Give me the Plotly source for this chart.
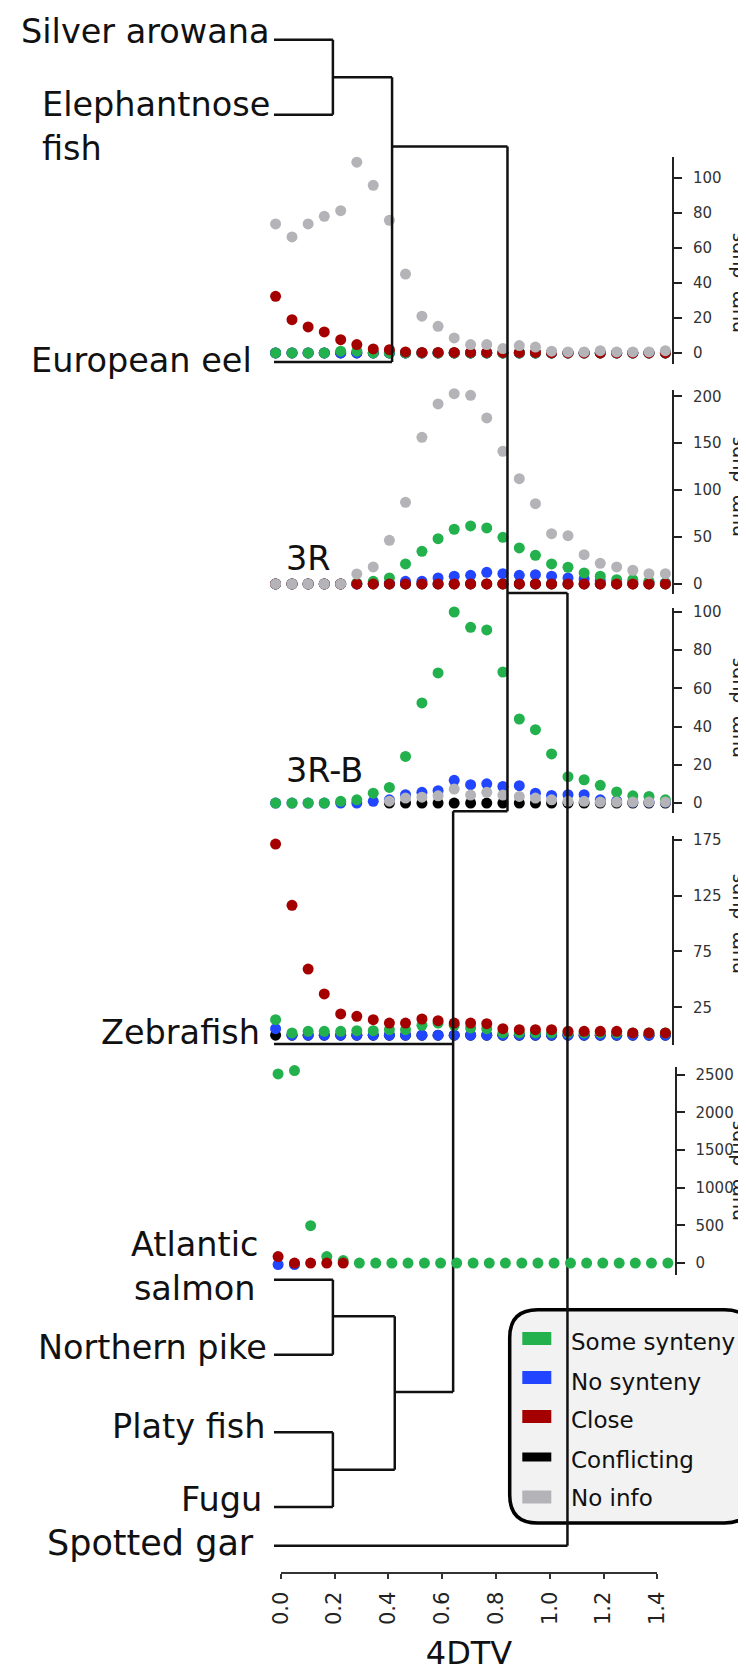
import plotly.graph_objects as go

W, H = 746, 1671
FONT = "DejaVu Sans"

# ---------------- data ----------------
x_bins = [-0.019, 0.042, 0.102, 0.162, 0.223, 0.283, 0.344, 0.404, 0.464, 0.525,
          0.585, 0.645, 0.706, 0.766, 0.826, 0.887, 0.947, 1.007, 1.068, 1.128,
          1.188, 1.249, 1.309, 1.369, 1.430]

series_names = ["Conflicting", "No synteny", "Some synteny", "Close", "No info"]   # drawing order
series_colors = {"Some synteny": "#22b14c", "No synteny": "#2246ff", "Close": "#a50000",
                 "Conflicting": "#000000", "No info": "#b4b4b8"}
legend_order = ["Some synteny", "No synteny", "Close", "Conflicting", "No info"]

# Panel 1: European eel
eel_green = [0, 0, 0, 0, 1, 1, 0, 0, 0, 0, 0, 0, 0, 0, 0, 0, 0, 0, 0, 0, 0, 0, 0, 0, 0]
eel_blue = [0, 0, 0, 0, 0, 0, 0, 0, 0, 0, 0, 0, 0, 0, 0, 0, 0, 0, 0, 0, 0, 0, 0, 0, 0]
eel_red = [32.4, 19, 14.9, 12, 7.6, 4.8, 2.3, 1.9, 0.6, 0.3, 0.3, 0.3, 0.3, 0.3, 0.3, 0.3, 0.3, 0, 0, 0, 0, 0, 0, 0, 0]
eel_black = [0, 0, 0, 0, 0, 0, 0, 0, 0, 0, 0, 0, 0, 0, 0, 0, 0, 0, 0, 0, 0, 0, 0, 0, 0]
eel_gray = [73.7, 66.3, 73.7, 78.1, 81.3, 109, 95.8, 75.8, 45.1, 21, 15.2, 8.6, 4.8, 4.8, 2.5, 4.2, 3.4, 1,
            0.6, 0.6, 1.3, 0.6, 0.6, 0.6, 1.3]

# Panel 2: 3R
r3_green = [0, 0, 0, 0, 0, 1, 2.8, 6.4, 21.3, 34.8, 48.3, 58.3, 61.8, 59.7, 49.7, 38.4, 30.5, 21.3,
            17.8, 11.7, 8.2, 4.6, 4.6, 2.8, 1]
r3_blue = [0, 0, 0, 0, 0, 0, 0.5, 0.5, 2.8, 2.8, 6.4, 8.2, 9.2, 12.4, 11, 9.2, 9.9, 8.2, 6.4, 5.3,
           3.5, 2.1, 2.1, 1.8, 1]
r3_red = [0, 0, 0, 0, 0, 0, 0, 0, 0, 0, 0, 0, 0, 0, 0, 0, 0, 0, 0, 0, 0, 0, 0, 0, 0]
r3_black = [0, 0, 0, 0, 0, 0, 0, 0, 0, 0, 0, 0, 0, 0, 0, 0, 0, 0, 0, 0, 0, 0, 0, 0, 0]
r3_gray = [0, 0, 0, 0, 0, 10.7, 18.1, 46.5, 87, 156.3, 191.8, 202.8, 201, 176.9, 141.4, 112.2, 85.6,
           53.6, 51.5, 31.2, 22, 18.1, 14.6, 11, 11]

# Panel 3: 3R-B
r3b_green = [0, 0, 0, 0, 0.9, 1.7, 5.2, 8.2, 24.4, 52.4, 68.1, 100, 92, 90.6, 68.6, 44, 38.4, 25.7,
             13.8, 12.2, 9.3, 5.8, 3.8, 3.5, 1.7]
r3b_blue = [0, 0, 0, 0, 0, 0, 0.9, 1.7, 4.4, 5.6, 6.5, 11.9, 9.6, 10.1, 8.7, 9.1, 5.2, 4, 4.4, 4.4,
            1.7, 1.2, 0.5, 0.5, 0.5]
r3b_red = [None] * 25
r3b_black = [None, None, None, None, None, None, None, 0, 0, 0, 0, 0, 0, 0, 0, 0, 0, 0, 0, 0, 0, 0, 0, 0, 0]
r3b_gray = [None, None, None, None, None, None, None, 1, 2.6, 3.1, 3.8, 7.3, 4.2, 5.6, 4.2, 3.5, 2.6, 1.7,
            0.9, 0.9, 0.5, 0.5, 0.5, 0.5, 0.5]

# Panel 4: Zebrafish
zf_green = [13.9, 2, 3.5, 3.5, 3.5, 4, 4, 4.9, 4.9, 8.8, 10.9, 8.8, 6.5, 5.8, 2, 2, 2, 2, 2, 2, 2, 2, 2, 2, 2]
zf_blue = [5.8, 0, 0, 0, 0, 0, 0, 0, 0, 0, 0, 0, 0, 0, 0, 0, 0, 0, 0, 0, 0, 0, 0, 0, 0]
zf_red = [171.1, 116.3, 59.2, 36.9, 19, 16.9, 13.9, 10.9, 10.9, 14.5, 13, 10.9, 10.9, 10.3, 5.8, 4.9,
          4.9, 4.9, 3.5, 3.5, 3.5, 3.5, 2, 2, 2]
zf_black = [0, 0, 0, 0, 0, 0, 0, 0, 0, 0, 0, 0, 0, 0, 0, 0, 0, 0, 0, 0, 0, 0, 0, 0, 0]
zf_gray = [None] * 25

# Panel 5: Atlantic salmon
sal_green = [2510, 2555, 495, 85, 33, 0, 0, 0, 0, 0, 0, 0, 0, 0, 0, 0, 0, 0, 0, 0, 0, 0, 0, 0, 0]
sal_blue = [-20, -20, None, None, None, None, None, None, None, None, None, None, None, None, None,
            None, None, None, None, None, None, None, None, None, None]
sal_red = [85, 0, 0, 0, 0, None, None, None, None, None, None, None, None, None, None, None, None,
           None, None, None, None, None, None, None, None]
sal_black = [None] * 25
sal_gray = [None] * 25

panel_series = [
    {"Some synteny": eel_green, "No synteny": eel_blue, "Close": eel_red, "Conflicting": eel_black, "No info": eel_gray},
    {"Some synteny": r3_green, "No synteny": r3_blue, "Close": r3_red, "Conflicting": r3_black, "No info": r3_gray},
    {"Some synteny": r3b_green, "No synteny": r3b_blue, "Close": r3b_red, "Conflicting": r3b_black, "No info": r3b_gray},
    {"Some synteny": zf_green, "No synteny": zf_blue, "Close": zf_red, "Conflicting": zf_black, "No info": zf_gray},
    {"Some synteny": sal_green, "No synteny": sal_blue, "Close": sal_red, "Conflicting": sal_black, "No info": sal_gray},
]
panel_ticks = [
    [0, 20, 40, 60, 80, 100],
    [0, 50, 100, 150, 200],
    [0, 20, 40, 60, 80, 100],
    [25, 75, 125, 175],
    [0, 500, 1000, 1500, 2000, 2500],
]
panel_ranges = [[-6.3, 111.8], [-10.7, 207], [-5.2, 102.1], [-8.5, 178.3], [-155, 2598]]

x_ticks = [0, 0.2, 0.4, 0.6, 0.8, 1.0, 1.2, 1.4]
x_ticktext = ["0.0", "0.2", "0.4", "0.6", "0.8", "1.0", "1.2", "1.4"]

# Dendrogram (node heights in 4DTV units)
leaf_names = ["Silver arowana", "Elephantnose fish", "European eel", "Zebrafish", "Atlantic salmon",
              "Northern pike", "Platy fish", "Fugu", "Spotted gar"]
leaf_start = -0.025
dendro_nodes = [
    # name, child a, child b, height
    ("A", "Silver arowana", "Elephantnose fish", 0.194),
    ("B", "A", "European eel", 0.414),
    ("SP", "Atlantic salmon", "Northern pike", 0.194),
    ("PF", "Platy fish", "Fugu", 0.194),
    ("EU", "SP", "PF", 0.424),
    ("TE", "Zebrafish", "EU", 0.641),
    ("C", "B", "TE", 0.843),
    ("ROOT", "C", "Spotted gar", 1.066),
]

# ---------------- layout geometry (pixels of the 746x1671 page) ----------------
px_x0, px_x14 = 272.7, 649.3          # pixel positions of 4DTV = 0 and 1.4
upx = 1.4 / (px_x14 - px_x0)
x_range = [-px_x0 * upx, (W - px_x0) * upx]
x_range5 = [x_range[0] - 2.5 * upx, x_range[1] - 2.5 * upx]

panel_px = [(149.3, 356), (381.7, 586), (600, 805), (828, 1036.7), (1059.3, 1266.7)]
panel_axis_px = [665, 665, 665, 665, 667.5]
panel_title_px = [272, 476, 697, 913, 1160]

leaf_y_px = {"Silver arowana": 31.7, "Elephantnose fish": 106.7, "European eel": 354, "Zebrafish": 1036,
             "Atlantic salmon": 1271.7, "Northern pike": 1346.7, "Platy fish": 1424.3, "Fugu": 1499,
             "Spotted gar": 1537.7}
node_y_px = {"A": 69.2, "B": 138.5, "SP": 1308.3, "PF": 1461.7, "EU": 1384, "TE": 803.3, "C": 585, "ROOT": None}


def pxx(p):
    return p / W


def pxy(p):
    return 1 - p / H


fig = go.Figure()

# ---------------- scatter panels ----------------
for i, ser in enumerate(panel_series):
    yref = "y" if i == 0 else f"y{i + 1}"
    xref = "x3" if i == 4 else "x"
    for name in series_names:
        fig.add_trace(go.Scatter(
            x=x_bins, y=ser[name], mode="markers", xaxis=xref, yaxis=yref,
            marker=dict(size=11, color=series_colors[name], line=dict(width=0)),
            cliponaxis=False, showlegend=False, name=name, hoverinfo="x+y+name"))

# ---------------- dendrogram ----------------
pos = {n: (leaf_start, leaf_y_px[n]) for n in leaf_names}
dx, dy = [], []
for name, a, b, h in dendro_nodes:
    (xa, ya), (xb, yb) = pos[a], pos[b]
    dx += [xa, h, None, xb, h, None]
    dy += [ya, ya, None, yb, yb, None]
    yo = node_y_px[name]
    ys = [ya, yb] + ([yo] if yo is not None else [])
    dx += [h, h, None]
    dy += [min(ys), max(ys), None]
    pos[name] = (h, yo)
fig.add_trace(go.Scatter(x=dx, y=dy, mode="lines", xaxis="x", yaxis="y6",
                         line=dict(color="#111111", width=2.5), showlegend=False, hoverinfo="skip"))

# invisible anchor trace so the 4DTV axis subplot is built
fig.add_trace(go.Scatter(x=[0.7], y=[0.5], xaxis="x2", yaxis="y7", mode="markers",
                         marker=dict(opacity=0), showlegend=False, hoverinfo="skip"))

# ---------------- axes ----------------
lay = dict(
    width=W, height=H, margin=dict(l=0, r=0, t=0, b=0),
    paper_bgcolor="white", plot_bgcolor="rgba(0,0,0,0)",
    font=dict(family=FONT, color="#000000"),
    showlegend=False,
    xaxis=dict(domain=[0, 1], range=x_range, visible=False, anchor="y", automargin=False),
    xaxis3=dict(domain=[0, 1], range=x_range5, visible=False, anchor="y5", automargin=False),
    xaxis2=dict(domain=[pxx(px_x0), pxx(px_x14)], range=[0, 1.4], anchor="y7",
                showline=True, linecolor="#333333", linewidth=2, ticks="outside", ticklen=5,
                tickwidth=2, tickcolor="#333333", tickangle=-90,
                tickvals=x_ticks, ticktext=x_ticktext,
                tickfont=dict(family=FONT, size=21, color="#222222"), ticklabelstandoff=4,
                showgrid=False, zeroline=False, automargin=False,
                title=dict(text="4DTV", font=dict(family=FONT, size=32, color="#111111"), standoff=17)),
    yaxis6=dict(domain=[0, 1], range=[H, 0], visible=False, anchor="x", automargin=False),
    yaxis7=dict(domain=[pxy(1564.3), pxy(1540)], range=[0, 1], visible=False, anchor="x2", automargin=False),
)
for i in range(5):
    key = "yaxis" if i == 0 else f"yaxis{i + 1}"
    top, bot = panel_px[i]
    lay[key] = dict(domain=[pxy(bot), pxy(top)], range=panel_ranges[i], anchor="free",
                    position=pxx(panel_axis_px[i]), side="right",
                    showline=True, linecolor="#222222", linewidth=2,
                    ticks="outside", ticklen=8, tickwidth=2, tickcolor="#222222",
                    tickvals=panel_ticks[i], tickfont=dict(family=FONT, size=15, color="#333333"),
                    ticklabelstandoff=8, showgrid=False, zeroline=False, automargin=False)
fig.update_layout(**lay)

# ---------------- text labels ----------------
ann = []


def label(text, xpx, ypx, xanchor="right", align="left", size=33.5, color="#111111"):
    ann.append(dict(text=text, x=pxx(xpx), y=pxy(ypx), xref="paper", yref="paper",
                    xanchor=xanchor, yanchor="middle", align=align, showarrow=False,
                    font=dict(family=FONT, size=size, color=color)))


label("Silver arowana", 264, 24)
label("Elephantnose<br>fish", 32, 119, xanchor="left", align="left")
label("European eel", 246, 352)
label("Zebrafish", 254, 1024)
label("Atlantic<br>salmon", 186, 1258, xanchor="center", align="center")
label("Northern pike", 261, 1339)
label("Platy fish", 259, 1418)
label("Fugu", 256, 1491)
label("Spotted gar", 248, 1535, size=35)
label("3R", 276, 550, xanchor="left")
label("3R-B", 276, 762, xanchor="left")

for i in range(5):
    ann.append(dict(text="num. dups.", x=pxx(729), y=pxy(panel_title_px[i]), xref="paper", yref="paper",
                    xanchor="center", yanchor="middle", textangle=-90, showarrow=False,
                    font=dict(family=FONT, size=19, color="#222222")))

# ---------------- legend (rounded box, swatches, names) ----------------
legend_text_y = [1334, 1373.7, 1412, 1452, 1490]
legend_swatch_y = [1330.5, 1369.5, 1408.5, 1449, 1489]
legend_swatch_h = [13, 13, 13, 9, 13]
shapes = []
l, t, r, b, rad = 501.7, 1301.7, 744.5, 1515, 28
rx, ry = rad / W, rad / H
L, R, T, B = pxx(l), pxx(r), pxy(t), pxy(b)
path = (f"M {L + rx},{T} L {R - rx},{T} Q {R},{T} {R},{T - ry} L {R},{B + ry} Q {R},{B} {R - rx},{B} "
        f"L {L + rx},{B} Q {L},{B} {L},{B + ry} L {L},{T - ry} Q {L},{T} {L + rx},{T} Z")
shapes.append(dict(type="path", path=path, xref="paper", yref="paper", layer="below",
                   line=dict(color="#000000", width=3.5), fillcolor="#f2f2f2"))
for k, name in enumerate(legend_order):
    yc, hh = legend_swatch_y[k], legend_swatch_h[k]
    shapes.append(dict(type="rect", xref="paper", yref="paper", layer="below",
                       x0=pxx(514.3), x1=pxx(543.3), y0=pxy(yc + hh / 2), y1=pxy(yc - hh / 2),
                       fillcolor=series_colors[name], line=dict(width=0)))
    ann.append(dict(text=name, x=pxx(561), y=pxy(legend_text_y[k]), xref="paper", yref="paper",
                    xanchor="left", yanchor="middle", showarrow=False,
                    font=dict(family=FONT, size=23, color="#111111")))

fig.update_layout(annotations=ann, shapes=shapes)

fig.write_html("out.html")
